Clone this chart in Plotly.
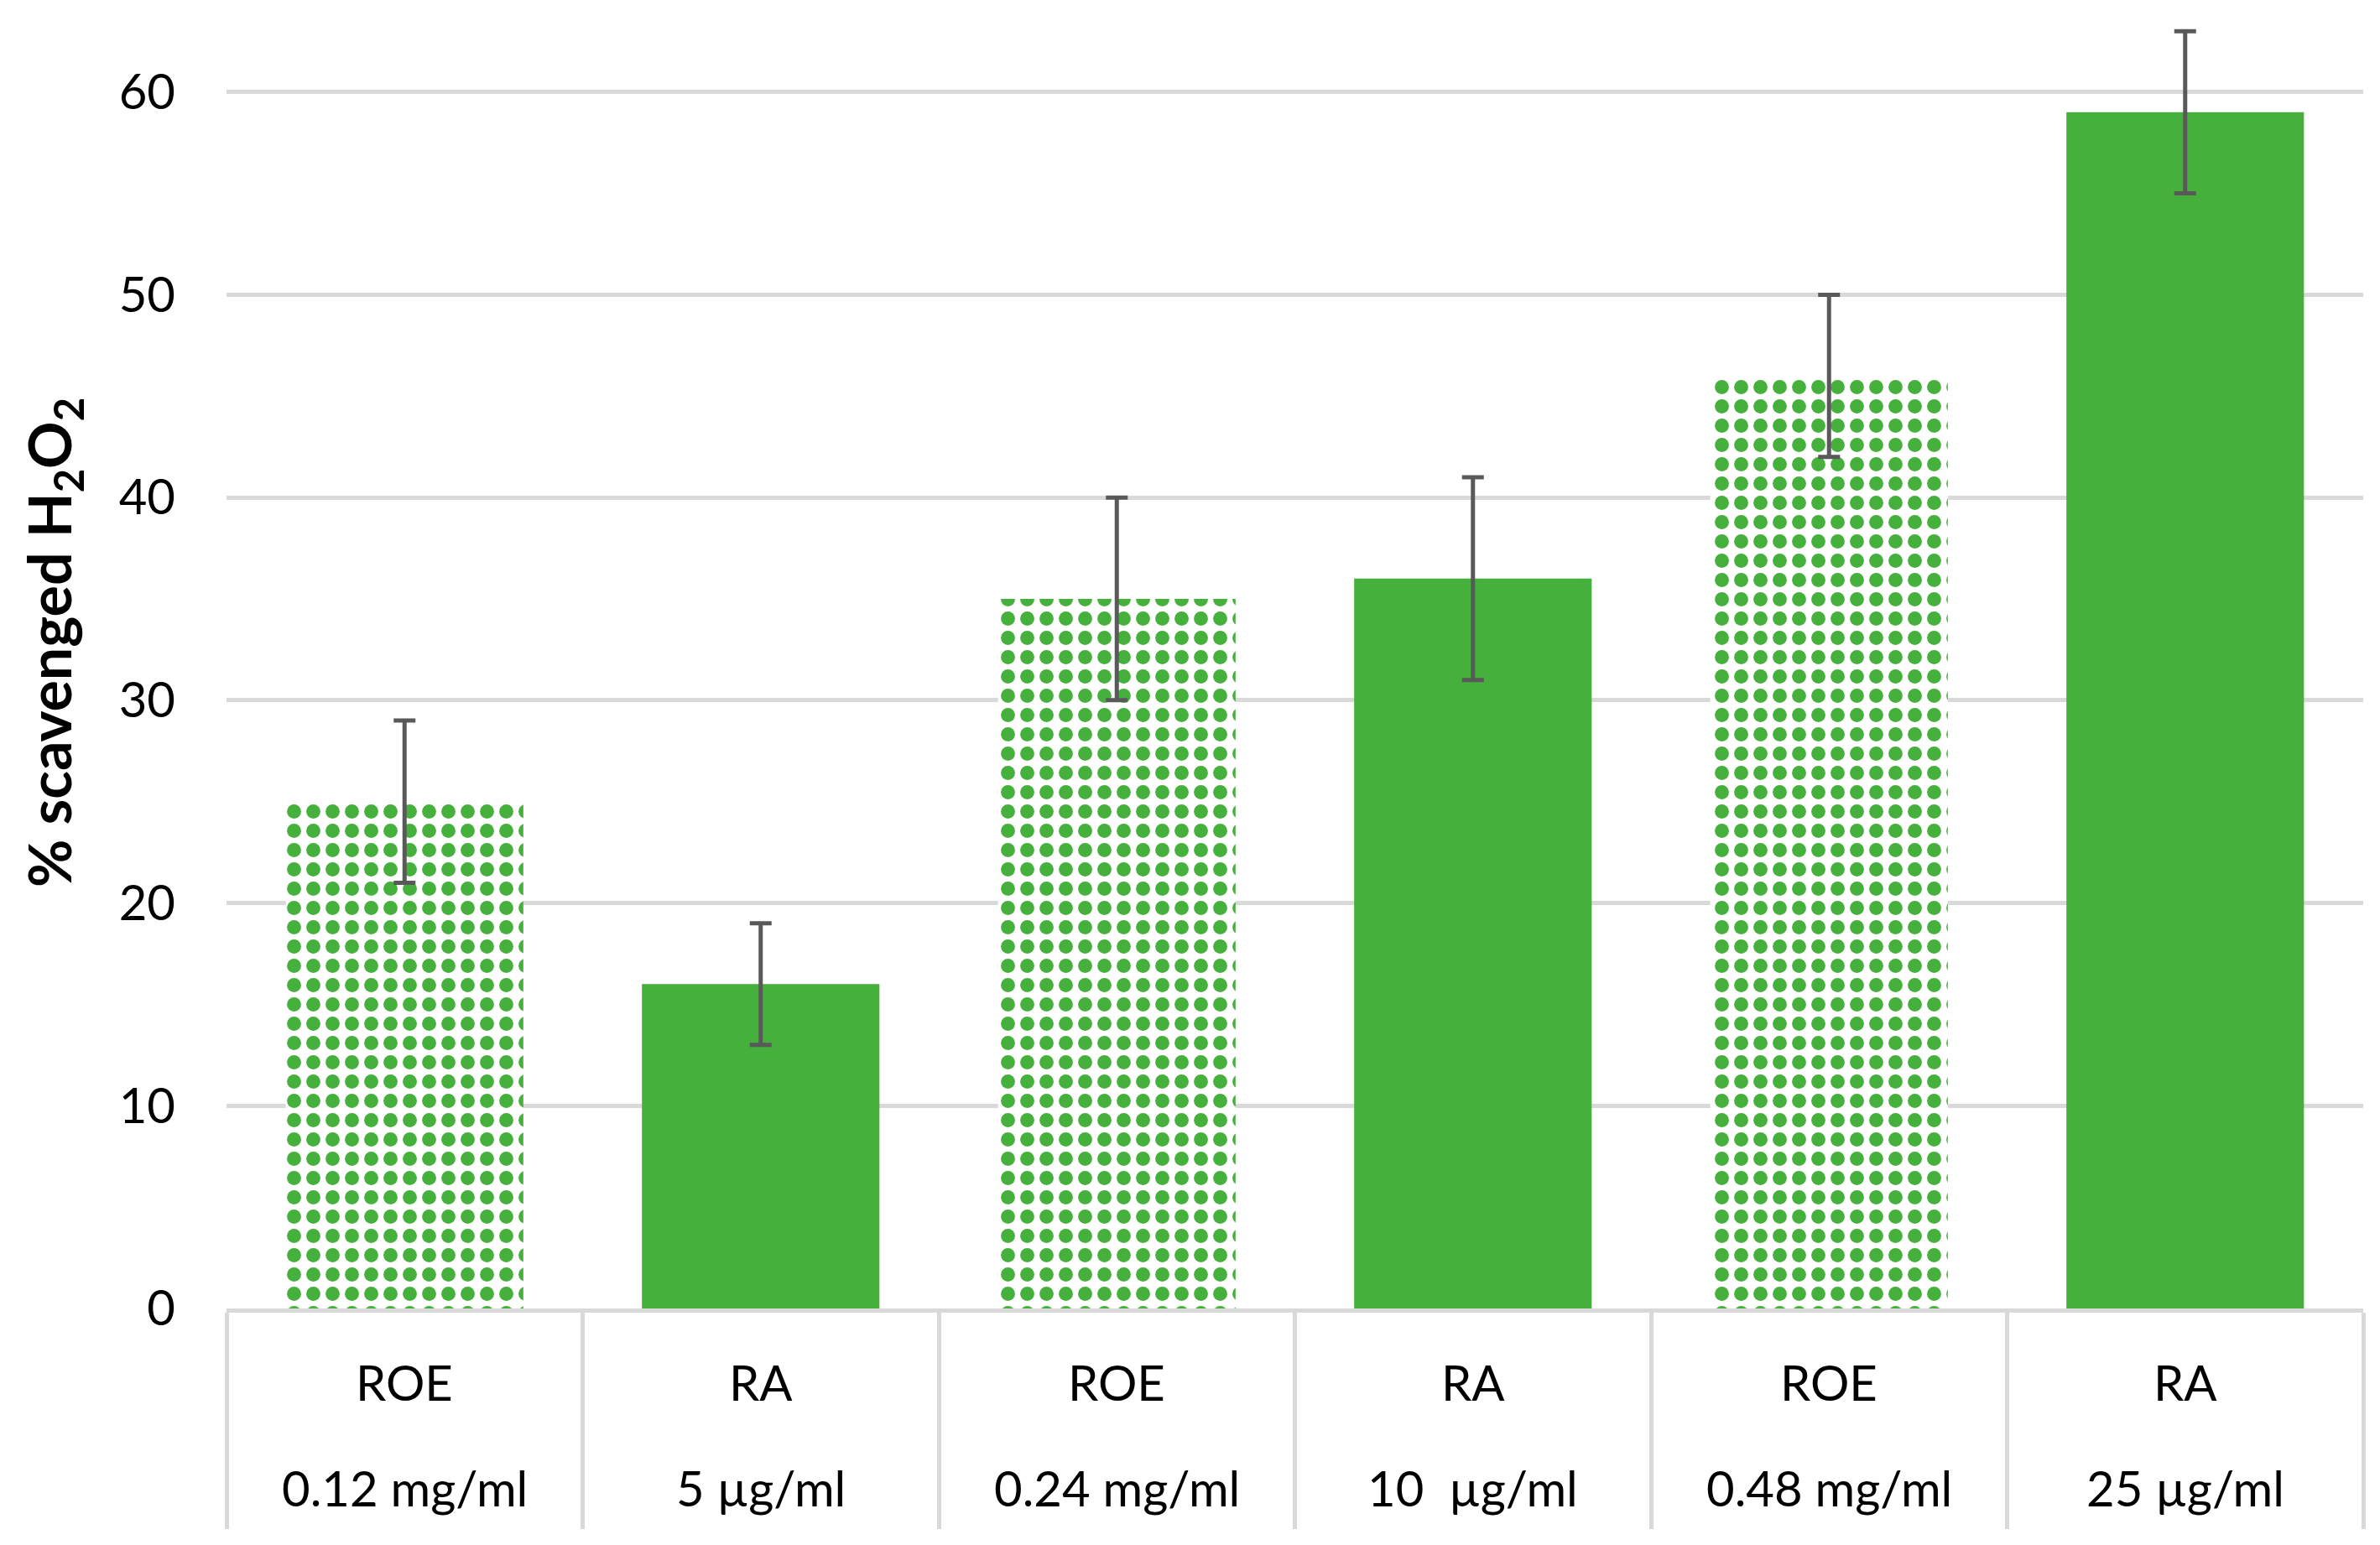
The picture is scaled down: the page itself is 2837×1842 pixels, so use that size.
import plotly.graph_objects as go

# ---- data ----
groups = ["ROE", "RA", "ROE", "RA", "ROE", "RA"]
concentrations = ["0.12 mg/ml", "5 µg/ml", "0.24 mg/ml", "10  µg/ml", "0.48 mg/ml", "25 µg/ml"]
values = [25, 16, 35, 36, 46, 59]
errors = [4, 3, 5, 5, 4, 4]
y_ticks = [0, 10, 20, 30, 40, 50, 60]
y_title = "<b>% scavenged H<sub>2</sub>O<sub>2</sub></b>"

W, H = 2837, 1842
ML, MR, MT, MB = 262, 28, 5, 290
PH = H - MT - MB
PW = W - ML - MR
GREEN = "#46B03D"
GRID = "#D9D9D9"
FONT = "Lato, Carlito, 'Open Sans', sans-serif"

xcats = list(range(len(values)))
patterns = ["." if g == "ROE" else "" for g in groups]

fig = go.Figure()
fig.add_trace(go.Bar(
    x=xcats,
    y=values,
    marker=dict(
        color=GREEN,
        line=dict(width=0),
        pattern=dict(shape=patterns, fgcolor=GREEN, bgcolor="white",
                     fgopacity=1, size=23, solidity=0.42, fillmode="replace"),
    ),
    error_y=dict(type="data", array=errors, visible=True,
                 color="#595959", thickness=5, width=13),
    showlegend=False,
))

def py_paper(py):
    return (MT + PH - py) / PH

def px_paper(px):
    return (px - ML) / PW

for i, (g, c) in enumerate(zip(groups, concentrations)):
    fig.add_annotation(x=i, y=py_paper(1639), xref="x", yref="paper",
                       text=g, showarrow=False, yanchor="middle",
                       font=dict(size=58, color="black", family=FONT))
    fig.add_annotation(x=i, y=py_paper(1765), xref="x", yref="paper",
                       text=c, showarrow=False, yanchor="middle",
                       font=dict(size=58, color="black", family=FONT))

fig.add_annotation(x=px_paper(55), y=py_paper(758), xref="paper", yref="paper",
                   text=y_title, textangle=-90, showarrow=False,
                   xanchor="center", yanchor="middle",
                   font=dict(size=70, color="black", family=FONT))

fig.update_layout(
    width=W, height=H,
    margin=dict(l=ML, r=MR, t=MT, b=MB),
    paper_bgcolor="white", plot_bgcolor="white",
    bargap=0.333,
    font=dict(family=FONT, color="black"),
    xaxis=dict(
        type="linear",
        range=[-0.5, len(values) - 0.5],
        tickmode="array",
        tickvals=[i - 0.5 for i in range(len(values) + 1)],
        showticklabels=False,
        ticks="outside", ticklen=258, tickwidth=5, tickcolor=GRID,
        showline=True, linecolor=GRID, linewidth=5,
        showgrid=False, zeroline=False,
    ),
    yaxis=dict(
        range=[0, 64],
        tickmode="array", tickvals=y_ticks,
        tickfont=dict(size=58, color="black", family=FONT),
        showgrid=True, gridcolor=GRID, gridwidth=4.5,
        zeroline=False, showline=False,
        ticks="", ticklabelstandoff=60,
    ),
)

fig.write_html("out.html")
